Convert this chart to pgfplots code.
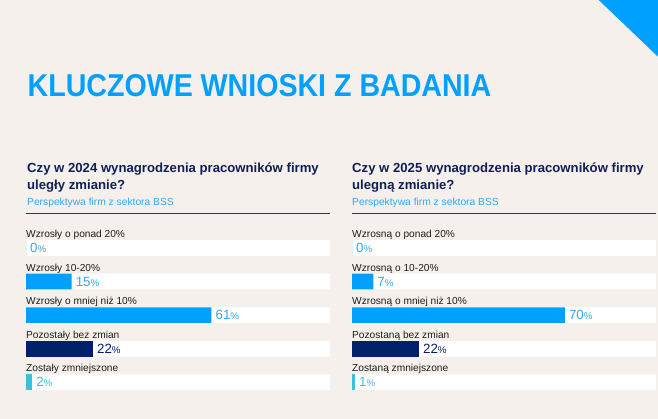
\documentclass[border=0pt]{standalone}
\usepackage{pgfplots}
\pgfplotsset{compat=1.18}
\usepackage{fontspec}
\setmainfont{Liberation Sans}
\newfontfamily\condfont[FakeStretch=0.905]{Liberation Sans}
\definecolor{bgc}{RGB}{245,240,236}
\definecolor{tblue}{RGB}{0,160,255}
\definecolor{barblue}{RGB}{0,160,255}
\definecolor{navy}{RGB}{0,33,105}
\definecolor{rulec}{RGB}{28,56,136}
\definecolor{qnavy}{RGB}{16,32,86}
\definecolor{cyanb}{RGB}{60,190,222}
\definecolor{lblue}{RGB}{50,168,242}
\definecolor{labtxt}{RGB}{30,30,30}
\pgfplotsset{
  panel/.style={scale only axis, width=304bp, height=168bp,
    xmin=0, xmax=100, ymin=-0.5, ymax=4.5, y dir=reverse,
    hide axis, xbar, bar width=15.7bp, bar shift=0pt, clip=false,
    point meta=x, /pgf/number format/assume math mode=true},
  vl/.style={nodes near coords={\fontsize{13.4}{13}\selectfont\pgfmathprintnumber{\pgfplotspointmeta}{\fontsize{9.8}{10}\selectfont\%}},
    every node near coord/.append style={anchor=west, inner sep=0pt, xshift=4bp, text=#1}},
}
\tikzset{cat/.style={anchor=base west, inner sep=0pt, font=\fontsize{10.2}{12}\selectfont, text=labtxt, yshift=10.4bp}}
\begin{document}
\begin{tikzpicture}
\path[use as bounding box, fill=bgc] (0,0) rectangle (658bp,419bp);
\fill[tblue] (598.7bp,419bp) -- (658bp,419bp) -- (658bp,362.3bp) -- cycle;
\node[anchor=base west, inner sep=0pt, text=tblue, font=\condfont\bfseries\fontsize{31.7}{32}\selectfont] at (27.5bp,322.3bp) {KLUCZOWE WNIOSKI Z BADANIA};
% left header
\node[anchor=base west, inner sep=0pt, text=qnavy, font=\bfseries\fontsize{13.2}{14}\selectfont] at (27bp,246bp) {Czy w 2024 wynagrodzenia pracowników firmy};
\node[anchor=base west, inner sep=0pt, text=qnavy, font=\bfseries\fontsize{13.2}{14}\selectfont] at (27bp,229bp) {uległy zmianie?};
\node[anchor=base west, inner sep=0pt, text=lblue, font=\fontsize{10.3}{11}\selectfont] at (27bp,213bp) {Perspektywa firm z sektora BSS};
\draw[rulec, line width=1.3bp] (26bp,205.7bp) -- (330bp,205.7bp);
% right header
\node[anchor=base west, inner sep=0pt, text=qnavy, font=\bfseries\fontsize{13.2}{14}\selectfont] at (352bp,246bp) {Czy w 2025 wynagrodzenia pracowników firmy};
\node[anchor=base west, inner sep=0pt, text=qnavy, font=\bfseries\fontsize{13.2}{14}\selectfont] at (352bp,229bp) {ulegną zmianie?};
\node[anchor=base west, inner sep=0pt, text=lblue, font=\fontsize{10.3}{11}\selectfont] at (352bp,213bp) {Perspektywa firm z sektora BSS};
\draw[rulec, line width=1.3bp] (352bp,205.7bp) -- (656bp,205.7bp);
% left panel
\begin{axis}[panel, at={(26bp,19.9bp)}, anchor=south west]
\addplot[fill=white, draw=none] coordinates {(100,0) (100,1) (100,2) (100,3) (100,4)};
\addplot[fill=barblue, draw=none, vl=lblue] coordinates {(0,0) (15,1) (61,2)};
\addplot[fill=navy, draw=none, vl=navy] coordinates {(22,3)};
\addplot[fill=cyanb, draw=none, vl=cyanb] coordinates {(2,4)};
\node[cat] at (axis cs:0,0) {Wzrosły o ponad 20\%};
\node[cat] at (axis cs:0,1) {Wzrosły 10-20\%};
\node[cat] at (axis cs:0,2) {Wzrosły o mniej niż 10\%};
\node[cat] at (axis cs:0,3) {Pozostały bez zmian};
\node[cat] at (axis cs:0,4) {Zostały zmniejszone};
\end{axis}
% right panel
\begin{axis}[panel, at={(352bp,19.9bp)}, anchor=south west]
\addplot[fill=white, draw=none] coordinates {(100,0) (100,1) (100,2) (100,3) (100,4)};
\addplot[fill=barblue, draw=none, vl=lblue] coordinates {(0,0) (7,1) (70,2)};
\addplot[fill=navy, draw=none, vl=navy] coordinates {(22,3)};
\addplot[fill=cyanb, draw=none, vl=cyanb] coordinates {(1,4)};
\node[cat] at (axis cs:0,0) {Wzrosną o ponad 20\%};
\node[cat] at (axis cs:0,1) {Wzrosną o 10-20\%};
\node[cat] at (axis cs:0,2) {Wzrosną o mniej niż 10\%};
\node[cat] at (axis cs:0,3) {Pozostaną bez zmian};
\node[cat] at (axis cs:0,4) {Zostaną zmniejszone};
\end{axis}
\end{tikzpicture}
\end{document}
